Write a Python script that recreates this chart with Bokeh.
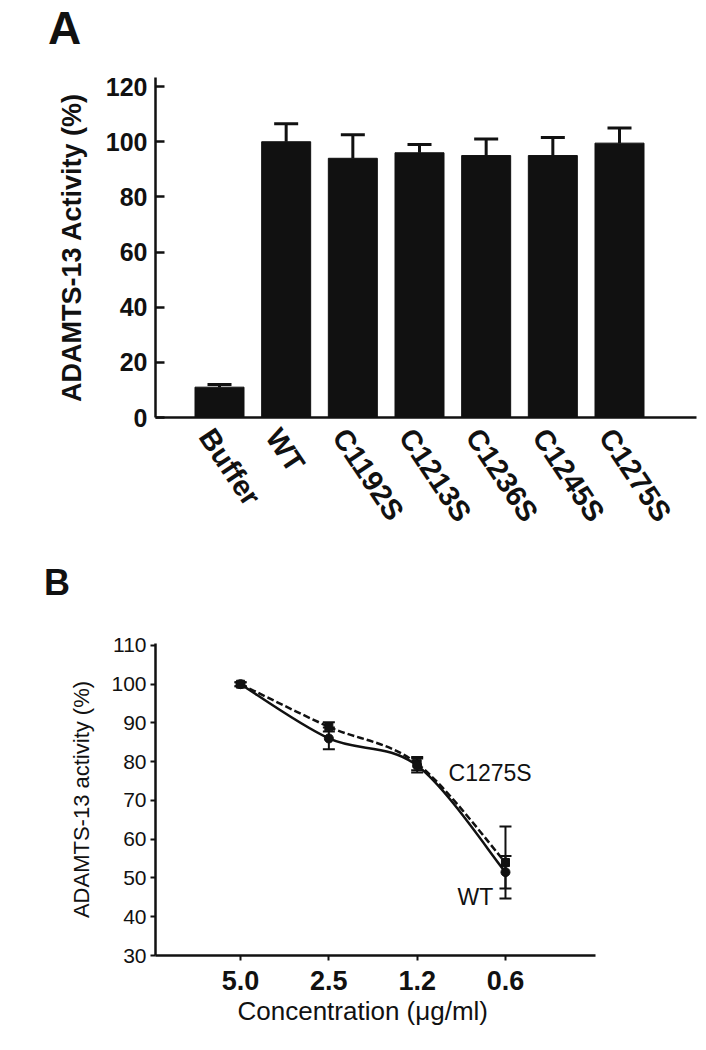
from bokeh.plotting import figure
from bokeh.models import (ColumnDataSource, Whisker, TeeHead, Label, FixedTicker,
                          Range1d, Title, Div)
from bokeh.layouts import column
from bokeh.embed import file_html
from bokeh.resources import INLINE

# ---------------- Panel A data ----------------
categories = ["Buffer", "WT", "C1192S", "C1213S", "C1236S", "C1245S", "C1275S"]
activity = [11, 100, 94, 96, 95, 95, 99.5]
activity_err = [1, 6.5, 8.5, 3, 6, 6.5, 5.5]
a_ticks = [0, 20, 40, 60, 80, 100, 120]

# ---------------- Panel B data ----------------
conc_labels = ["5.0", "2.5", "1.2", "0.6"]
wt_act = [100, 86, 79, 51.5]
wt_err = [0.5, 2.8, 1.8, 4.2]
c1275s_act = [100, 89, 79.5, 54]
c1275s_err = [0.5, 1.2, 1.7, 9.3]
b_ticks = [30, 40, 50, 60, 70, 80, 90, 100, 110]

FONT = "Liberation Sans"
INK = "#111111"
LEFT = 155
RIGHT = 10


def style(p):
    p.outline_line_color = None
    p.xgrid.visible = False
    p.ygrid.visible = False
    p.background_fill_color = "white"
    p.border_fill_color = "white"


def panel_letter(text, size, height, pad_top, pad_left):
    return Div(text=text, width=706, height=height, margin=0,
               styles={"font-family": FONT, "font-weight": "bold",
                       "font-size": f"{size}px", "line-height": f"{size}px",
                       "color": INK, "padding-top": f"{pad_top}px",
                       "padding-left": f"{pad_left}px",
                       "box-sizing": "border-box"})


# ================= Panel A =================
divA = panel_letter("A", 46, 60, 5, 48)

xa = list(range(len(categories)))
pA = figure(width=706, height=500, x_range=Range1d(-0.96, 7.155),
            y_range=Range1d(0, 123.3), output_backend="svg",
            toolbar_location=None, min_border_left=LEFT, min_border_right=RIGHT,
            min_border_top=17, min_border_bottom=143)
style(pA)

srcA = ColumnDataSource(dict(
    x=xa, top=activity,
    upper=[a + e for a, e in zip(activity, activity_err)]))
pA.vbar(x="x", top="top", width=0.735, source=srcA, color=INK)
pA.add_layout(Whisker(source=srcA, base="x", lower="top", upper="upper",
                      lower_head=None,
                      upper_head=TeeHead(size=24, line_width=3, line_color=INK),
                      line_width=3, line_color=INK))

shift = 0.2
tick_pos = [i - shift for i in xa]
pA.xaxis.ticker = FixedTicker(ticks=tick_pos)
pA.xaxis.major_label_overrides = {t: c for t, c in zip(tick_pos, categories)}
pA.xaxis.major_label_orientation = -0.98
pA.xaxis.major_tick_line_color = None
pA.xaxis.minor_tick_line_color = None
pA.xaxis.major_label_standoff = 8
pA.xaxis.axis_line_width = 2.5
pA.xaxis.axis_line_color = INK
pA.xaxis.major_label_text_font = FONT
pA.xaxis.major_label_text_font_style = "bold"
pA.xaxis.major_label_text_font_size = "29px"
pA.xaxis.major_label_text_color = INK

pA.yaxis.ticker = FixedTicker(ticks=a_ticks)
pA.yaxis.major_tick_in = 9
pA.yaxis.major_tick_out = 0
pA.yaxis.major_tick_line_width = 2.5
pA.yaxis.major_tick_line_color = INK
pA.yaxis.minor_tick_line_color = None
pA.yaxis.axis_line_width = 2.5
pA.yaxis.axis_line_color = INK
pA.yaxis.major_label_standoff = 8
pA.yaxis.major_label_text_font = FONT
pA.yaxis.major_label_text_font_style = "bold"
pA.yaxis.major_label_text_font_size = "25px"
pA.yaxis.major_label_text_color = INK
pA.yaxis.axis_label = "ADAMTS-13 Activity (%)"
pA.yaxis.axis_label_text_font = FONT
pA.yaxis.axis_label_text_font_style = "bold"
pA.yaxis.axis_label_text_font_size = "27px"
pA.yaxis.axis_label_text_color = INK
pA.yaxis.axis_label_standoff = 16

# ================= Panel B =================
divB = panel_letter("B", 36, 50, 5, 44)

xb = list(range(len(conc_labels)))
pB = figure(width=706, height=440, x_range=Range1d(-0.963, 5.163),
            y_range=Range1d(30, 110.5), output_backend="svg",
            toolbar_location=None, min_border_left=LEFT, min_border_right=RIGHT,
            min_border_top=33, min_border_bottom=95)
style(pB)


def bezier_cols(xs, ys):
    n = len(xs)
    d = dict(x0=[], y0=[], x1=[], y1=[], cx0=[], cy0=[], cx1=[], cy1=[])
    for i in range(n - 1):
        xm, ym = (xs[i - 1], ys[i - 1]) if i > 0 else (xs[i], ys[i])
        xp, yp = (xs[i + 2], ys[i + 2]) if i + 2 < n else (xs[i + 1], ys[i + 1])
        d["x0"].append(xs[i]); d["y0"].append(ys[i])
        d["x1"].append(xs[i + 1]); d["y1"].append(ys[i + 1])
        d["cx0"].append(xs[i] + (xs[i + 1] - xm) / 6)
        d["cy0"].append(ys[i] + (ys[i + 1] - ym) / 6)
        d["cx1"].append(xs[i + 1] - (xp - xs[i]) / 6)
        d["cy1"].append(ys[i + 1] - (yp - ys[i]) / 6)
    return d


pB.bezier(source=ColumnDataSource(bezier_cols(xb, c1275s_act)),
          x0="x0", y0="y0", x1="x1", y1="y1", cx0="cx0", cy0="cy0",
          cx1="cx1", cy1="cy1", line_width=2.5, line_color=INK,
          line_dash="7 3")
pB.bezier(source=ColumnDataSource(bezier_cols(xb, wt_act)),
          x0="x0", y0="y0", x1="x1", y1="y1", cx0="cx0", cy0="cy0",
          cx1="cx1", cy1="cy1", line_width=2.5, line_color=INK)

for vals, errs in ((c1275s_act, c1275s_err), (wt_act, wt_err)):
    s = ColumnDataSource(dict(x=xb,
                              lo=[v - e for v, e in zip(vals, errs)],
                              hi=[v + e for v, e in zip(vals, errs)]))
    pB.add_layout(Whisker(source=s, base="x", lower="lo", upper="hi",
                          line_width=2, line_color=INK,
                          lower_head=TeeHead(size=12, line_width=2, line_color=INK),
                          upper_head=TeeHead(size=12, line_width=2, line_color=INK)))

pB.scatter(xb, c1275s_act, marker="square", size=8, color=INK)
pB.scatter(xb, wt_act, marker="circle", size=9, color=INK)

pB.add_layout(Label(x=2.355, y=77.0, text="C1275S", text_font=FONT,
                    text_font_size="23px", text_color=INK,
                    text_baseline="alphabetic"))
pB.add_layout(Label(x=2.457, y=45.0, text="WT", text_font=FONT,
                    text_font_size="23px", text_color=INK,
                    text_baseline="alphabetic"))

pB.xaxis.ticker = FixedTicker(ticks=xb)
pB.xaxis.bounds = (-0.963, 4.02)
pB.xaxis.major_label_overrides = {i: c for i, c in zip(xb, conc_labels)}
pB.xaxis.major_tick_in = 0
pB.xaxis.major_tick_out = 5
pB.xaxis.major_tick_line_width = 2
pB.xaxis.major_tick_line_color = INK
pB.xaxis.minor_tick_line_color = None
pB.xaxis.axis_line_width = 2.5
pB.xaxis.axis_line_color = INK
pB.xaxis.major_label_standoff = 10
pB.xaxis.major_label_text_font = FONT
pB.xaxis.major_label_text_font_style = "bold"
pB.xaxis.major_label_text_font_size = "27px"
pB.xaxis.major_label_text_color = INK
# x-axis title, placed under the axis so that it is centred like the original
pB.add_layout(Title(text="Concentration (\u03bcg/ml)", align="left", offset=82,
                    standoff=2, text_font=FONT, text_font_style="normal",
                    text_font_size="26px", text_color=INK), "below")

pB.yaxis.ticker = FixedTicker(ticks=b_ticks)
pB.yaxis.major_tick_in = 0
pB.yaxis.major_tick_out = 5
pB.yaxis.major_tick_line_width = 2
pB.yaxis.major_tick_line_color = INK
pB.yaxis.minor_tick_line_color = None
pB.yaxis.axis_line_width = 2.5
pB.yaxis.axis_line_color = INK
pB.yaxis.major_label_standoff = 4
pB.yaxis.major_label_text_font = FONT
pB.yaxis.major_label_text_font_size = "21px"
pB.yaxis.major_label_text_color = INK
pB.yaxis.axis_label = "ADAMTS-13 activity (%)"
pB.yaxis.axis_label_text_font = FONT
pB.yaxis.axis_label_text_font_style = "normal"
pB.yaxis.axis_label_text_font_size = "22px"
pB.yaxis.axis_label_text_color = INK
pB.yaxis.axis_label_standoff = 14

layout = column(divA, pA, divB, pB)
open("out.html", "w").write(file_html(layout, INLINE))
